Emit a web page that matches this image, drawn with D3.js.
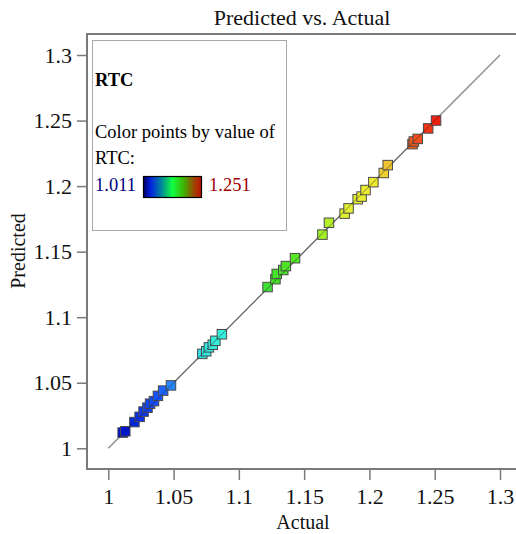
<!DOCTYPE html>
<html><head><meta charset="utf-8">
<script src="https://cdn.jsdelivr.net/npm/d3@7"></script>
<style>body{margin:0;background:#fff}svg{display:block}text{font-family:"Liberation Serif","Times New Roman",serif}</style>
</head><body>
<svg id="c" width="516" height="534"></svg>
<script>
const actual = [1.011,1.013,1.020,1.024,1.027,1.030,1.032,1.035,1.038,1.042,1.048,
  1.072,1.075,1.077,1.080,1.082,1.087,
  1.122,1.128,1.129,1.134,1.136,1.143,1.164,1.169,
  1.181,1.184,1.191,1.194,1.197,1.203,1.211,1.214,
  1.233,1.234,1.237,1.245,1.251];
const predicted = [1.012,1.013,1.020,1.024,1.028,1.031,1.034,1.036,1.040,1.044,1.048,
  1.072,1.074,1.077,1.079,1.082,1.087,
  1.123,1.129,1.133,1.136,1.139,1.145,1.163,1.172,
  1.179,1.183,1.190,1.192,1.197,1.203,1.210,1.216,
  1.232,1.234,1.236,1.244,1.250];
const tickValues = [1,1.05,1.1,1.15,1.2,1.25,1.3];
const tickLabels = ["1","1.05","1.1","1.15","1.2","1.25","1.3"];
const colorStops = [1.011,1.04,1.05,1.075,1.09,1.125,1.145,1.165,1.18,1.205,1.215,1.232,1.251];
const colorValues = ["#0010d0","#1858ff","#2890f8","#30e8e0","#38f0d8","#40e028","#58e828","#a8f028","#e0f030","#f0e830","#f0c030","#f06020","#f02010"];
const legendMin = "1.011", legendMax = "1.251";

const svg = d3.select("#c");
const x = d3.scaleLinear().domain([1,1.3]).range([108.3,500]);
const y = d3.scaleLinear().domain([1,1.3]).range([448.3,55]);
const color = d3.scaleLinear().domain(colorStops).range(colorValues);
const axisCol = "#7a7a7a";

// frame
svg.append("line").attr("x1",87).attr("x2",516).attr("y1",34).attr("y2",34).attr("stroke",axisCol).attr("stroke-width",2);
svg.append("line").attr("x1",87).attr("x2",87).attr("y1",33).attr("y2",470).attr("stroke",axisCol).attr("stroke-width",2);
svg.append("line").attr("x1",86).attr("x2",516).attr("y1",469).attr("y2",469).attr("stroke",axisCol).attr("stroke-width",2);

// axes
const fmt = d => tickLabels[tickValues.indexOf(d)];
const xa = svg.append("g").attr("transform","translate(0,469)")
  .call(d3.axisBottom(x).tickValues(tickValues).tickFormat(fmt).tickSize(11).tickPadding(8));
const ya = svg.append("g").attr("transform","translate(87,0)")
  .call(d3.axisLeft(y).tickValues(tickValues).tickFormat(fmt).tickSize(10).tickPadding(5));
[xa,ya].forEach(a=>{
  a.select(".domain").remove();
  a.selectAll(".tick line").attr("stroke",axisCol).attr("stroke-width",1.5);
  a.selectAll(".tick text").attr("fill","#111").style("font-size","22px").style("font-family","Liberation Serif");
});

// diagonal
svg.append("line").attr("x1",x(1)).attr("y1",y(1)).attr("x2",x(1.3)).attr("y2",y(1.3))
  .attr("stroke","#909090").attr("stroke-width",1.5);

// points
const s = 9.5;
svg.append("g").selectAll("rect").data(actual.map((a,i)=>({a,p:predicted[i]}))).join("rect")
  .attr("x",d=>x(d.a)-s/2).attr("y",d=>y(d.p)-s/2).attr("width",s).attr("height",s)
  .attr("fill",d=>color(d.a)).attr("stroke","#4a4a4a").attr("stroke-width",1);
svg.append("line").attr("x1",x(1.008)).attr("y1",y(1.008)).attr("x2",x(1.254)).attr("y2",y(1.254))
  .attr("stroke","#222").attr("stroke-width",0.8).attr("opacity",0.6);

// titles
svg.append("text").attr("x",302).attr("y",25).attr("text-anchor","middle").style("font-size","22px").attr("fill","#111").text("Predicted vs. Actual");
svg.append("text").attr("x",303).attr("y",529).attr("text-anchor","middle").style("font-size","20px").attr("fill","#111").text("Actual");
svg.append("text").attr("transform","translate(25,251) rotate(-90)").attr("text-anchor","middle").style("font-size","20px").attr("fill","#111").text("Predicted");

// legend
const lg = svg.append("g");
lg.append("rect").attr("x",92.5).attr("y",40.5).attr("width",194).attr("height",190).attr("fill","#fff").attr("stroke","#a8a8a8").attr("stroke-width",1);
lg.append("text").attr("x",95).attr("y",86).style("font-size","18.5px").style("font-weight","bold").attr("fill","#000").text("RTC");
lg.append("text").attr("x",95).attr("y",138).style("font-size","18.5px").attr("fill","#000").text("Color points by value of");
lg.append("text").attr("x",95).attr("y",164).style("font-size","18.5px").attr("fill","#000").text("RTC:");
lg.append("text").attr("x",95).attr("y",191).style("font-size","18.5px").attr("fill","#000080").text(legendMin);
lg.append("text").attr("x",209).attr("y",191).style("font-size","18.5px").attr("fill","#a00000").text(legendMax);
const defs = svg.append("defs");
const gr = defs.append("linearGradient").attr("id","lgrad");
[["0%","#000060"],["12%","#0020e0"],["30%","#0080a0"],["50%","#10ff40"],["70%","#40b000"],["88%","#a04000"],["100%","#c01000"]]
  .forEach(([o,c])=>gr.append("stop").attr("offset",o).attr("stop-color",c));
lg.append("rect").attr("x",143.5).attr("y",176.5).attr("width",58).attr("height",21).attr("fill","url(#lgrad)").attr("stroke","#000").attr("stroke-width",1.2);
</script>
</body></html>
